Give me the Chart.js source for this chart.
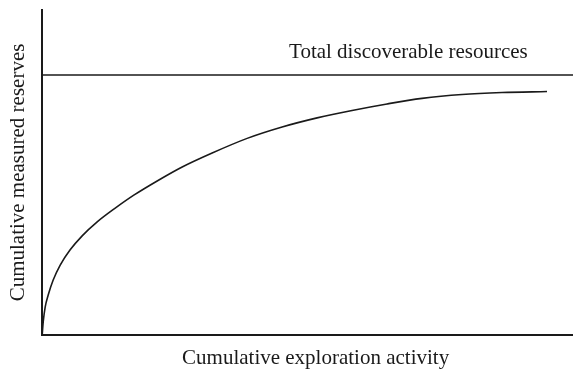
<!DOCTYPE html>
<html>
<head>
<meta charset="utf-8">
<script src="https://cdn.jsdelivr.net/npm/chart.js@4.4.1/dist/chart.umd.min.js"></script>
<style>
  html, body { margin: 0; padding: 0; background: #fff; }
  #wrap { width: 573px; height: 369px; position: relative; }
</style>
</head>
<body>
<div id="wrap"><canvas id="c"></canvas></div>
<script>
// ─── Data ─────────────────────────────────────────────────────────────────────
const exploration = [0, 0.19, 0.56, 1.13, 2.07, 3.39, 5.27, 7.53, 10.36, 13.56, 17.33, 21.66,
                     26.37, 32.02, 38.61, 45.2, 51.79, 58.38, 64.97, 71.56, 79.1, 86.63, 95.1];
const reserves    = [0, 4.0, 8.6, 12.3, 16.9, 21.5, 26.2, 30.5, 34.8, 38.8, 43.1, 47.4,
                     51.7, 56.0, 60.5, 64.0, 66.8, 69.1, 71.1, 72.8, 74.0, 74.6, 74.9];
const totalX      = [0, 100];
const totalY      = [80, 80];
const totalLabel  = 'Total discoverable resources';
const xTitle      = 'Cumulative exploration activity';
const yTitle      = 'Cumulative measured reserves';

const SERIF = '"Liberation Serif", "Times New Roman", serif';
const INK   = '#1a1a1a';

// Text labels: one above the "total" line, and the x-axis caption
// (drawn by hand because it sits a bit right of the plot's centre)
const labelsPlugin = {
  id: 'labels',
  afterDraw(chart) {
    const { ctx, chartArea, scales: { x, y } } = chart;
    ctx.save();
    ctx.font = `21px ${SERIF}`;
    ctx.fillStyle = INK;
    ctx.textBaseline = 'alphabetic';

    ctx.textAlign = 'left';
    ctx.fillText(totalLabel, x.getPixelForValue(46.5), y.getPixelForValue(85.2));

    ctx.textAlign = 'center';
    ctx.fillText(xTitle, (chartArea.left + chartArea.right) / 2 + 8, chartArea.bottom + 29);
    ctx.restore();
  },
};

new Chart(document.getElementById('c'), {
  type: 'scatter',
  data: {
    datasets: [
      {
        data: exploration.map((v, i) => ({ x: v, y: reserves[i] })),
        showLine: true,
        borderColor: INK,
        borderWidth: 1.6,
        pointRadius: 0,
        cubicInterpolationMode: 'monotone',
      },
      {
        data: totalX.map((v, i) => ({ x: v, y: totalY[i] })),
        showLine: true,
        borderColor: INK,
        borderWidth: 1.5,
        pointRadius: 0,
      },
    ],
  },
  options: {
    responsive: true,
    maintainAspectRatio: false,
    animation: false,
    layout: { padding: { left: 2, top: 10, right: 0, bottom: 34 } },
    plugins: { legend: { display: false }, tooltip: { enabled: false } },
    scales: {
      x: {
        min: 0, max: 100,
        grid: { display: false, drawTicks: false },
        border: { display: true, color: INK, width: 2 },
        ticks: { display: false },
      },
      y: {
        min: 0, max: 100,
        grid: { display: false, drawTicks: false },
        border: { display: true, color: INK, width: 2 },
        ticks: { display: false },
        title: {
          display: true,
          text: yTitle,
          color: INK,
          font: { family: SERIF, size: 21 },
          padding: { top: 4, bottom: 11 },
        },
      },
    },
  },
  plugins: [labelsPlugin],
});
</script>
</body>
</html>
